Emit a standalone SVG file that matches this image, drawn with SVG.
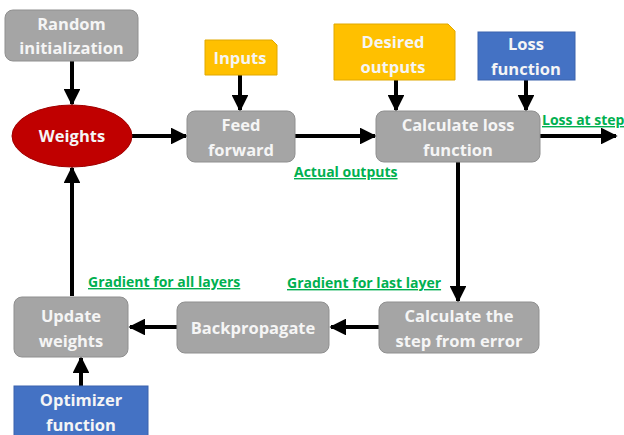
<svg xmlns="http://www.w3.org/2000/svg" width="624" height="435" viewBox="0 0 624 435">
<defs>
<style>
.box{fill:#a5a5a5;stroke:#8f8f8f;stroke-width:1}
.t{font-family:"Open Sans",Lato,sans-serif;font-weight:bold;font-size:16.5px;fill:#f5f5f5;text-anchor:middle}
.lbl{font-family:"Open Sans",Lato,sans-serif;font-weight:bold;font-size:14px;fill:#00b050;text-decoration:underline}
.c{stroke:#000;stroke-width:4;fill:none;marker-end:url(#ah)}
</style>
<marker id="ah" viewBox="0 0 10 10" refX="9" refY="5" markerWidth="4.2" markerHeight="4.2" markerUnits="strokeWidth" orient="auto">
<path d="M0,0 L10,5 L0,10 z" fill="#000"/>
</marker>
</defs>
<rect width="624" height="435" fill="#fff"/>
<g id="connectors">
<line class="c" x1="72" y1="61" x2="72" y2="104"/>
<line class="c" x1="240" y1="75" x2="240" y2="110"/>
<line class="c" x1="396" y1="80" x2="396" y2="110"/>
<line class="c" x1="526" y1="80" x2="526" y2="110"/>
<line class="c" x1="132" y1="136" x2="186" y2="136"/>
<line class="c" x1="295" y1="136" x2="375" y2="136"/>
<line class="c" x1="540" y1="136" x2="616" y2="136"/>
<line class="c" x1="458" y1="162" x2="458" y2="301"/>
<line class="c" x1="379" y1="327" x2="331" y2="327"/>
<line class="c" x1="177" y1="327" x2="130" y2="327"/>
<line class="c" x1="72" y1="296" x2="72" y2="168"/>
<line class="c" x1="81" y1="386" x2="81" y2="358"/>
</g>
<g id="random-init">
<rect class="box" x="5" y="10" width="133" height="51" rx="8"/>
<text class="t" x="71.5" y="30">Random</text>
<text class="t" x="71.5" y="54">initialization</text>
</g>
<g id="inputs">
<path d="M205,40 H272 L277,45 V75 H205 Z" fill="#ffc000" stroke="#e0a800" stroke-width="1"/>
<text class="t" x="240" y="64">Inputs</text>
</g>
<g id="desired-outputs">
<path d="M334,24 H448 L455,31 V80 H334 Z" fill="#ffc000" stroke="#e0a800" stroke-width="1"/>
<text class="t" x="393" y="48">Desired</text>
<text class="t" x="393" y="73">outputs</text>
</g>
<g id="loss-function">
<rect x="478" y="32" width="97" height="48" fill="#4472c4" stroke="#3a63ad" stroke-width="1"/>
<text class="t" x="526" y="50">Loss</text>
<text class="t" x="526" y="75">function</text>
</g>
<g id="weights">
<ellipse cx="72" cy="136" rx="60" ry="31" fill="#c00000" stroke="#a00000" stroke-width="1"/>
<text class="t" x="72" y="142">Weights</text>
</g>
<g id="feed-forward">
<rect class="box" x="187" y="111" width="108" height="51" rx="8"/>
<text class="t" x="241" y="131">Feed</text>
<text class="t" x="241" y="156">forward</text>
</g>
<g id="calc-loss">
<rect class="box" x="376" y="111" width="164" height="51" rx="8"/>
<text class="t" x="458" y="131">Calculate loss</text>
<text class="t" x="458" y="156">function</text>
</g>
<g id="calc-step">
<rect class="box" x="379" y="302" width="160" height="51" rx="8"/>
<text class="t" x="459" y="322">Calculate the</text>
<text class="t" x="459" y="347">step from error</text>
</g>
<g id="backpropagate">
<rect class="box" x="177" y="302" width="152" height="51" rx="8"/>
<text class="t" x="253" y="334">Backpropagate</text>
</g>
<g id="update-weights">
<rect class="box" x="14" y="297" width="114" height="60" rx="8"/>
<text class="t" x="71" y="322">Update</text>
<text class="t" x="71" y="347">weights</text>
</g>
<g id="optimizer">
<rect x="14" y="386" width="134" height="52" fill="#4472c4" stroke="#3a63ad" stroke-width="1"/>
<text class="t" x="81" y="406">Optimizer</text>
<text class="t" x="81" y="431">function</text>
</g>
<g id="labels">
<text class="lbl" x="542" y="125">Loss at step</text>
<text class="lbl" x="294" y="177">Actual outputs</text>
<text class="lbl" x="287" y="288">Gradient for last layer</text>
<text class="lbl" x="88" y="287">Gradient for all layers</text>
</g>
</svg>
